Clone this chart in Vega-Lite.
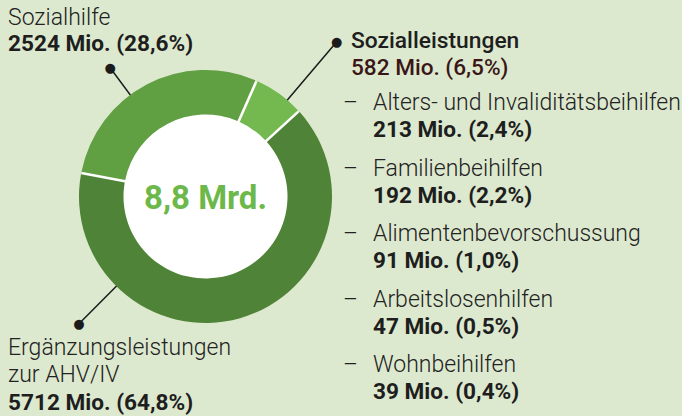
{
  "$schema": "https://vega.github.io/schema/vega-lite/v6.json",
  "width": 411,
  "height": 393,
  "autosize": "none",
  "padding": {"left": 0, "top": 0, "right": 271, "bottom": 23},
  "background": "#dde9cf",
  "config": {"view": {"stroke": null}, "font": "Roboto", "text": {"font": "Roboto"}},
  "datasets": {
    "haupt": [
      {"Kategorie": "Sozialleistungen", "Name": "Sozialleistungen", "Betrag": 582, "Beschriftung": "582 Mio. (6,5%)", "Nr": 1},
      {"Kategorie": "Ergänzungsleistungen zur AHV/IV", "Name": "Ergänzungsleistungen\nzur AHV/IV", "Betrag": 5712, "Beschriftung": "5712 Mio. (64,8%)", "Nr": 2},
      {"Kategorie": "Sozialhilfe", "Name": "Sozialhilfe", "Betrag": 2524, "Beschriftung": "2524 Mio. (28,6%)", "Nr": 3}
    ],
    "unterposten": [
      {"Posten": "Alters- und Invaliditätsbeihilfen", "Betrag": 213, "Beschriftung": "213 Mio. (2,4%)", "Nr": 1},
      {"Posten": "Familienbeihilfen", "Betrag": 192, "Beschriftung": "192 Mio. (2,2%)", "Nr": 2},
      {"Posten": "Alimentenbevorschussung", "Betrag": 91, "Beschriftung": "91 Mio. (1,0%)", "Nr": 3},
      {"Posten": "Arbeitslosenhilfen", "Betrag": 47, "Beschriftung": "47 Mio. (0,5%)", "Nr": 4},
      {"Posten": "Wohnbeihilfen", "Betrag": 39, "Beschriftung": "39 Mio. (0,4%)", "Nr": 5}
    ],
    "gesamt": [{"Summe": "8,8 Mrd."}]
  },
  "resolve": {"scale": {"y": "independent"}},
  "layer": [
    {
      "data": {"name": "haupt"},
      "transform": [{"filter": "datum.Kategorie === 'Sozialleistungen'"}],
      "mark": {"type": "arc", "radius": 200, "radius2": 100, "stroke": "#1b1b1b", "strokeWidth": 1.5, "fillOpacity": 0},
      "encoding": {
        "theta": {"datum": 404, "type": "quantitative", "scale": {"domain": [0, 8818], "range": [0.41539, 6.69858]}},
        "theta2": {"datum": 404}
      }
    },
    {
      "data": {"name": "haupt"},
      "transform": [{"filter": "datum.Kategorie === 'Sozialhilfe'"}],
      "mark": {"type": "arc", "radius": 158, "radius2": 100, "stroke": "#1b1b1b", "strokeWidth": 1.5, "fillOpacity": 0},
      "encoding": {
        "theta": {"datum": 7340, "type": "quantitative"},
        "theta2": {"datum": 7340}
      }
    },
    {
      "data": {"name": "haupt"},
      "transform": [{"filter": "datum.Kategorie === 'Ergänzungsleistungen zur AHV/IV'"}],
      "mark": {"type": "arc", "radius": 177, "radius2": 100, "stroke": "#1b1b1b", "strokeWidth": 1.5, "fillOpacity": 0},
      "encoding": {
        "theta": {"datum": 4924, "type": "quantitative"},
        "theta2": {"datum": 4924}
      }
    },
    {
      "data": {"name": "gesamt"},
      "mark": {"type": "arc", "radius": 125.5, "color": "#ffffff"},
      "encoding": {}
    },
    {
      "data": {"name": "haupt"},
      "mark": {"type": "arc", "radius": 126.5, "radius2": 82, "padAngle": 0.017},
      "encoding": {
        "theta": {"field": "Betrag", "type": "quantitative", "stack": true},
        "order": {"field": "Nr", "type": "quantitative"},
        "color": {
          "field": "Kategorie", "type": "nominal", "legend": null,
          "scale": {"domain": ["Sozialleistungen", "Ergänzungsleistungen zur AHV/IV", "Sozialhilfe"], "range": ["#73b94f", "#4f8337", "#619f43"]}
        }
      }
    },
    {
      "data": {"name": "haupt"},
      "transform": [{"filter": "datum.Kategorie === 'Sozialleistungen'"}],
      "mark": {"type": "text", "text": "●", "font": "DejaVu Sans", "fontSize": 13, "radius": 202.9, "align": "center", "baseline": "middle", "color": "#1b1b1b"},
      "encoding": {"theta": {"datum": 404, "type": "quantitative"}}
    },
    {
      "data": {"name": "haupt"},
      "transform": [{"filter": "datum.Kategorie === 'Sozialhilfe'"}],
      "mark": {"type": "text", "text": "●", "font": "DejaVu Sans", "fontSize": 13, "radius": 160.3, "align": "center", "baseline": "middle", "color": "#1b1b1b"},
      "encoding": {"theta": {"datum": 7340, "type": "quantitative"}}
    },
    {
      "data": {"name": "haupt"},
      "transform": [{"filter": "datum.Kategorie === 'Ergänzungsleistungen zur AHV/IV'"}],
      "mark": {"type": "text", "text": "●", "font": "DejaVu Sans", "fontSize": 13, "radius": 179.4, "align": "center", "baseline": "middle", "color": "#1b1b1b"},
      "encoding": {"theta": {"datum": 4924, "type": "quantitative"}}
    },
    {
      "data": {"name": "gesamt"},
      "mark": {"type": "text", "fontSize": 33, "fontWeight": "bold", "color": "#6cb84b", "align": "center", "baseline": "alphabetic", "dy": 12},
      "encoding": {"text": {"field": "Summe", "type": "nominal"}}
    },
    {
      "data": {"name": "haupt"},
      "transform": [{"filter": "datum.Kategorie === 'Sozialhilfe'"}],
      "layer": [
        {"mark": {"type": "text", "fontSize": 23, "fontWeight": 300, "color": "#222222", "align": "left", "baseline": "alphabetic", "dx": -197.5, "dy": -171.5},
         "encoding": {"text": {"field": "Name", "type": "nominal"}}},
        {"mark": {"type": "text", "fontSize": 22.6, "fontWeight": "bold", "color": "#1e1e1e", "align": "left", "baseline": "alphabetic", "dx": -197.5, "dy": -145.5},
         "encoding": {"text": {"field": "Beschriftung", "type": "nominal"}}}
      ]
    },
    {
      "data": {"name": "haupt"},
      "transform": [{"filter": "datum.Kategorie === 'Ergänzungsleistungen zur AHV/IV'"}],
      "layer": [
        {"mark": {"type": "text", "fontSize": 23, "fontWeight": 300, "color": "#222222", "align": "left", "baseline": "alphabetic", "lineBreak": "\n", "lineHeight": 27, "dx": -197.5, "dy": 158.5},
         "encoding": {"text": {"field": "Name", "type": "nominal"}}},
        {"mark": {"type": "text", "fontSize": 22.6, "fontWeight": "bold", "color": "#1e1e1e", "align": "left", "baseline": "alphabetic", "dx": -197.5, "dy": 213.5},
         "encoding": {"text": {"field": "Beschriftung", "type": "nominal"}}}
      ]
    },
    {
      "data": {"name": "haupt"},
      "transform": [{"filter": "datum.Kategorie === 'Sozialleistungen'"}],
      "layer": [
        {"mark": {"type": "text", "fontSize": 22.8, "fontWeight": 500, "color": "#1e1e1e", "align": "left", "baseline": "alphabetic", "dx": 145.5, "dy": -148.5},
         "encoding": {"text": {"field": "Name", "type": "nominal"}}},
        {"mark": {"type": "text", "fontSize": 22.6, "fontWeight": 500, "color": "#3a1616", "align": "left", "baseline": "alphabetic", "dx": 145.5, "dy": -121.5},
         "encoding": {"text": {"field": "Beschriftung", "type": "nominal"}}}
      ]
    },
    {
      "data": {"name": "unterposten"},
      "mark": {"type": "text", "text": "–", "fontSize": 23, "fontWeight": 300, "color": "#222222", "align": "left", "baseline": "alphabetic", "dx": 137.5},
      "encoding": {"y": {"field": "Nr", "type": "ordinal", "axis": null, "scale": {"type": "point", "padding": 0, "range": [110, 372]}}}
    },
    {
      "data": {"name": "unterposten"},
      "mark": {"type": "text", "fontSize": 23, "fontWeight": 300, "color": "#222222", "align": "left", "baseline": "alphabetic", "dx": 167.5},
      "encoding": {
        "y": {"field": "Nr", "type": "ordinal", "axis": null, "scale": {"type": "point", "padding": 0, "range": [110, 372]}},
        "text": {"field": "Posten", "type": "nominal"}
      }
    },
    {
      "data": {"name": "unterposten"},
      "mark": {"type": "text", "fontSize": 22.6, "fontWeight": "bold", "color": "#1e1e1e", "align": "left", "baseline": "alphabetic", "dx": 167.5, "dy": 27},
      "encoding": {
        "y": {"field": "Nr", "type": "ordinal", "axis": null, "scale": {"type": "point", "padding": 0, "range": [110, 372]}},
        "text": {"field": "Beschriftung", "type": "nominal"}
      }
    }
  ]
}
